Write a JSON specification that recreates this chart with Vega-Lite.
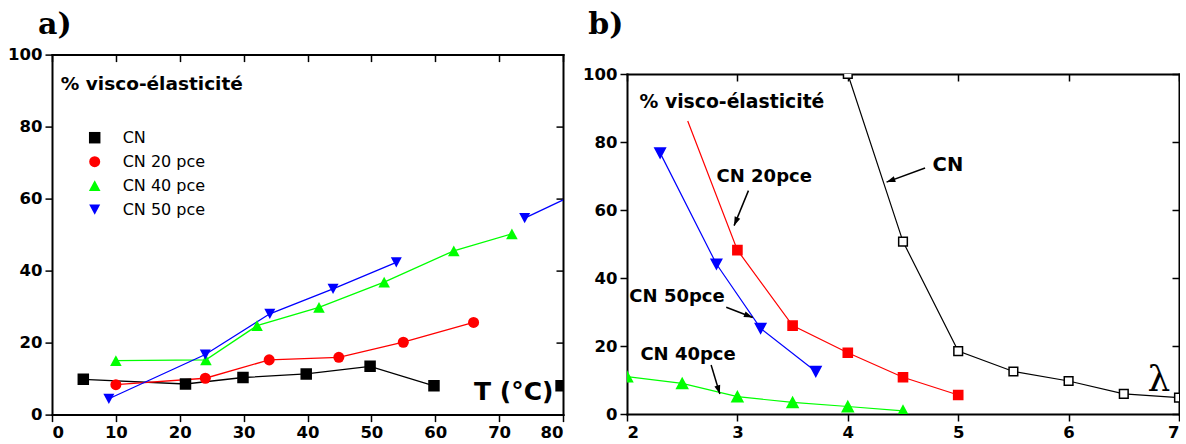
{
  "$schema": "https://vega.github.io/schema/vega-lite/v6.json",
  "background": "white",
  "padding": {"left": 7, "top": 9, "right": 0, "bottom": 0},
  "config": {
    "view": {"stroke": null},
    "axis": {"domain": true, "domainColor": "black", "domainWidth": 2, "domainCap": "square", "grid": false, "tickColor": "black", "tickWidth": 1.5, "tickSize": 7, "labelFont": "DejaVu Sans", "labelFontWeight": "bold", "labelFontSize": 16.5, "labelColor": "black", "labelPadding": 3, "title": null},
    "text": {"font": "DejaVu Sans", "color": "black"}
  },
  "datasets": {
    "a": [
      {"T": 4.9, "v": 9.8, "s": "CN", "g": "k1"},
      {"T": 20.9, "v": 8.5, "s": "CN", "g": "k1"},
      {"T": 29.9, "v": 10.3, "s": "CN", "g": "k1"},
      {"T": 39.8, "v": 11.3, "s": "CN", "g": "k1"},
      {"T": 49.8, "v": 13.4, "s": "CN", "g": "k1"},
      {"T": 59.8, "v": 8.0, "s": "CN", "g": "k1"},
      {"T": 79.7, "v": 8.0, "s": "CN", "g": "k2"},
      {"T": 10, "v": 8.3, "s": "CN 20 pce", "g": "r"},
      {"T": 24, "v": 10.1, "s": "CN 20 pce", "g": "r"},
      {"T": 34, "v": 15.2, "s": "CN 20 pce", "g": "r"},
      {"T": 44.9, "v": 15.9, "s": "CN 20 pce", "g": "r"},
      {"T": 55, "v": 20.1, "s": "CN 20 pce", "g": "r"},
      {"T": 66, "v": 25.6, "s": "CN 20 pce", "g": "r"},
      {"T": 10, "v": 15.0, "s": "CN 40 pce", "g": "gr"},
      {"T": 24.1, "v": 15.2, "s": "CN 40 pce", "g": "gr"},
      {"T": 32.1, "v": 24.7, "s": "CN 40 pce", "g": "gr"},
      {"T": 41.8, "v": 29.8, "s": "CN 40 pce", "g": "gr"},
      {"T": 52, "v": 36.8, "s": "CN 40 pce", "g": "gr"},
      {"T": 62.9, "v": 45.5, "s": "CN 40 pce", "g": "gr"},
      {"T": 72, "v": 50.2, "s": "CN 40 pce", "g": "gr"},
      {"T": 8.9, "v": 4.4, "s": "CN 50 pce", "g": "b1"},
      {"T": 24, "v": 16.7, "s": "CN 50 pce", "g": "b1"},
      {"T": 34.1, "v": 28.0, "s": "CN 50 pce", "g": "b1"},
      {"T": 44, "v": 34.9, "s": "CN 50 pce", "g": "b1"},
      {"T": 53.9, "v": 42.3, "s": "CN 50 pce", "g": "b1"},
      {"T": 74, "v": 54.6, "s": "CN 50 pce", "g": "b2"},
      {"T": 85.5, "v": 64.2, "s": "CN 50 pce", "g": "b2"}
    ],
    "b": [
      {"L": 4, "v": 100, "sb": "CN"},
      {"L": 4.5, "v": 50.7, "sb": "CN"},
      {"L": 5, "v": 18.5, "sb": "CN"},
      {"L": 5.5, "v": 12.5, "sb": "CN"},
      {"L": 6, "v": 9.7, "sb": "CN"},
      {"L": 6.5, "v": 5.9, "sb": "CN"},
      {"L": 7, "v": 4.8, "sb": "CN"},
      {"L": 2.55, "v": 86.2, "sb": "CN 20pce"},
      {"L": 3, "v": 48.2, "sb": "CN 20pce"},
      {"L": 3.5, "v": 26, "sb": "CN 20pce"},
      {"L": 4, "v": 18, "sb": "CN 20pce"},
      {"L": 4.5, "v": 10.8, "sb": "CN 20pce"},
      {"L": 5, "v": 5.6, "sb": "CN 20pce"},
      {"L": 2.3, "v": 76.8, "sb": "CN 50pce"},
      {"L": 2.81, "v": 44.1, "sb": "CN 50pce"},
      {"L": 3.21, "v": 25.2, "sb": "CN 50pce"},
      {"L": 3.71, "v": 12.5, "sb": "CN 50pce"},
      {"L": 2, "v": 11, "sb": "CN 40pce"},
      {"L": 2.5, "v": 9, "sb": "CN 40pce"},
      {"L": 3, "v": 5.1, "sb": "CN 40pce"},
      {"L": 3.5, "v": 3.4, "sb": "CN 40pce"},
      {"L": 4, "v": 2.2, "sb": "CN 40pce"},
      {"L": 4.5, "v": 0.9, "sb": "CN 40pce"}
    ],
    "arrB": [
      {"x": 4.70, "y": 72.35, "hx": 4.351, "hy": 68.2, "ang": 250},
      {"x": 3.10, "y": 65.7, "hx": 2.97, "hy": 55.4, "ang": 202.4},
      {"x": 2.899, "y": 31.4, "hx": 3.139, "hy": 28.4, "ang": 111},
      {"x": 2.762, "y": 14.4, "hx": 2.841, "hy": 5.9, "ang": 163.2}
    ]
  },
  "resolve": {"scale": {"color": "independent", "stroke": "independent", "fill": "independent", "shape": "independent", "size": "independent"}},
  "spacing": 18,
  "hconcat": [
    {
      "spacing": -6.4,
      "vconcat": [
        {
          "width": 511,
          "height": 1,
          "title": {"text": "a)", "anchor": "start", "frame": "group", "font": "DejaVu Serif", "fontSize": 30, "fontWeight": "bold", "color": "black", "dx": -14, "offset": 2},
          "data": {"values": [{"t": ""}]},
          "mark": {"type": "text"},
          "encoding": {"text": {"field": "t"}}
        },
        {
          "width": 511,
          "height": 360,
          "layer": [
            {
              "data": {"name": "a"},
              "mark": {"type": "line", "clip": true, "strokeWidth": 1.3},
              "encoding": {
                "x": {"field": "T", "type": "quantitative", "scale": {"domain": [0, 80], "nice": false, "zero": false}, "axis": {"values": [0, 10, 20, 30, 40, 50, 60, 70, 80], "orient": "bottom"}},
                "y": {"field": "v", "type": "quantitative", "scale": {"domain": [0, 100], "nice": false}, "axis": {"values": [0, 20, 40, 60, 80, 100], "orient": "left"}},
                "color": {"field": "s", "type": "nominal", "scale": {"domain": ["CN", "CN 20 pce", "CN 40 pce", "CN 50 pce"], "range": ["black", "#ff0000", "#00ff00", "#0000ff"]}},
                "detail": {"field": "g"},
                "order": {"field": "T", "type": "quantitative"}
              }
            },
            {
              "data": {"name": "a"},
              "mark": {"type": "point", "filled": true, "clip": true, "opacity": 1},
              "encoding": {
                "x": {"field": "T", "type": "quantitative", "scale": {"domain": [0, 80], "nice": false, "zero": false}, "axis": {"values": [0, 10, 20, 30, 40, 50, 60, 70, 80], "orient": "top", "labels": false, "tickSize": -7}},
                "y": {"field": "v", "type": "quantitative", "scale": {"domain": [0, 100], "nice": false}, "axis": {"values": [0, 20, 40, 60, 80, 100], "orient": "right", "labels": false, "tickSize": -7}},
                "color": {"field": "s", "type": "nominal", "scale": {"domain": ["CN", "CN 20 pce", "CN 40 pce", "CN 50 pce"], "range": ["black", "#ff0000", "#00ff00", "#0000ff"]},
                  "legend": {"title": null, "orient": "none", "legendX": 34.7, "legendY": 82.7, "padding": 0, "rowPadding": 8, "labelOffset": 20, "labelFont": "DejaVu Sans", "labelFontSize": 16, "labelFontWeight": "normal", "labelColor": "black", "symbolSize": 100, "symbolStrokeWidth": 0, "symbolOpacity": 1}},
                "shape": {"field": "s", "type": "nominal", "scale": {"domain": ["CN", "CN 20 pce", "CN 40 pce", "CN 50 pce"], "range": ["square", "circle", "M0,-1.02L1.1,1.03H-1.1Z", "M0,1.03L-1.1,-1.02H1.1Z"]}},
                "size": {"field": "s", "type": "nominal", "scale": {"domain": ["CN", "CN 20 pce", "CN 40 pce", "CN 50 pce"], "range": [132, 100, 144, 144]}, "legend": null}
              }
            },
            {
              "data": {"values": [{"x": 1.38, "y": 91.9, "t": "% visco-élasticité"}]},
              "mark": {"type": "text", "align": "left", "baseline": "middle", "fontWeight": "bold", "fontSize": 18.5, "font": "DejaVu Sans"},
              "encoding": {
                "x": {"field": "x", "type": "quantitative", "scale": {"domain": [0, 80], "nice": false, "zero": false}, "axis": null},
                "y": {"field": "y", "type": "quantitative", "scale": {"domain": [0, 100], "nice": false}, "axis": null},
                "text": {"field": "t"}
              }
            },
            {
              "data": {"values": [{"x": 72.3, "y": 6.2, "t": "T (°C)"}]},
              "mark": {"type": "text", "align": "center", "baseline": "middle", "fontWeight": "bold", "fontSize": 25, "font": "DejaVu Sans"},
              "encoding": {
                "x": {"field": "x", "type": "quantitative", "scale": {"domain": [0, 80], "nice": false, "zero": false}, "axis": null},
                "y": {"field": "y", "type": "quantitative", "scale": {"domain": [0, 100], "nice": false}, "axis": null},
                "text": {"field": "t"}
              }
            }
          ],
          "resolve": {"axis": {"x": "independent", "y": "independent"}}
        }
      ]
    },
    {
      "spacing": 13,
      "vconcat": [
        {
          "width": 552,
          "height": 1,
          "title": {"text": "b)", "anchor": "start", "frame": "group", "font": "DejaVu Serif", "fontSize": 30, "fontWeight": "bold", "color": "black", "dx": -38.7, "offset": 2},
          "data": {"values": [{"t": ""}]},
          "mark": {"type": "text"},
          "encoding": {"text": {"field": "t"}}
        },
        {
          "width": 552,
          "height": 340,
          "layer": [
            {
              "data": {"name": "b"},
              "mark": {"type": "line", "clip": true, "strokeWidth": 1.2},
              "encoding": {
                "x": {"field": "L", "type": "quantitative", "scale": {"domain": [2, 7], "nice": false, "zero": false}, "axis": {"values": [2, 3, 4, 5, 6, 7], "orient": "bottom"}},
                "y": {"field": "v", "type": "quantitative", "scale": {"domain": [0, 100], "nice": false}, "axis": {"values": [0, 20, 40, 60, 80, 100], "orient": "left"}},
                "stroke": {"field": "sb", "type": "nominal", "scale": {"domain": ["CN", "CN 20pce", "CN 50pce", "CN 40pce"], "range": ["black", "#ff0000", "#0000ff", "#00ff00"]}, "legend": null},
                "order": {"field": "L", "type": "quantitative"}
              }
            },
            {
              "data": {"name": "b"},
              "transform": [{"filter": "datum.sb != 'CN 20pce' || datum.L >= 2.9"}],
              "mark": {"type": "point", "filled": true, "clip": true, "opacity": 1, "strokeWidth": 1.5},
              "encoding": {
                "x": {"field": "L", "type": "quantitative", "scale": {"domain": [2, 7], "nice": false, "zero": false}, "axis": {"values": [2, 3, 4, 5, 6, 7], "orient": "top", "labels": false, "tickSize": -7}},
                "y": {"field": "v", "type": "quantitative", "scale": {"domain": [0, 100], "nice": false}, "axis": {"values": [0, 20, 40, 60, 80, 100], "orient": "right", "labels": false, "tickSize": -7}},
                "fill": {"field": "sb", "type": "nominal", "scale": {"domain": ["CN", "CN 20pce", "CN 50pce", "CN 40pce"], "range": ["white", "#ff0000", "#0000ff", "#00ff00"]}, "legend": null},
                "stroke": {"field": "sb", "type": "nominal", "scale": {"domain": ["CN", "CN 20pce", "CN 50pce", "CN 40pce"], "range": ["black", "#ff0000", "#0000ff", "#00ff00"]}, "legend": null},
                "shape": {"field": "sb", "type": "nominal", "scale": {"domain": ["CN", "CN 20pce", "CN 50pce", "CN 40pce"], "range": ["square", "square", "M0,1.03L-1.1,-1.02H1.1Z", "M0,-1.02L1.1,1.03H-1.1Z"]}, "legend": null},
                "size": {"field": "sb", "type": "nominal", "scale": {"domain": ["CN", "CN 20pce", "CN 50pce", "CN 40pce"], "range": [75, 100, 64, 64]}, "legend": null}
              }
            },
            {
              "data": {"name": "arrB"},
              "mark": {"type": "rule", "color": "black", "strokeWidth": 1.5},
              "encoding": {
                "x": {"field": "x", "type": "quantitative", "scale": {"domain": [2, 7], "nice": false, "zero": false}, "axis": null},
                "y": {"field": "y", "type": "quantitative", "scale": {"domain": [0, 100], "nice": false}, "axis": null},
                "x2": {"field": "hx"},
                "y2": {"field": "hy"}
              }
            },
            {
              "data": {"name": "arrB"},
              "mark": {"type": "point", "filled": true, "opacity": 1, "color": "black", "shape": "M0,0L0.75,2.2L-0.75,2.2Z", "size": 64},
              "encoding": {
                "x": {"field": "hx", "type": "quantitative", "scale": {"domain": [2, 7], "nice": false, "zero": false}, "axis": null},
                "y": {"field": "hy", "type": "quantitative", "scale": {"domain": [0, 100], "nice": false}, "axis": null},
                "angle": {"field": "ang", "type": "quantitative", "scale": null}
              }
            },
            {
              "data": {"values": [{"x": 2.114, "y": 91.9, "t": "% visco-élasticité"}]},
              "mark": {"type": "text", "align": "left", "baseline": "middle", "fontWeight": "bold", "fontSize": 18.8, "font": "DejaVu Sans"},
              "encoding": {
                "x": {"field": "x", "type": "quantitative", "scale": {"domain": [2, 7], "nice": false, "zero": false}, "axis": null},
                "y": {"field": "y", "type": "quantitative", "scale": {"domain": [0, 100], "nice": false}, "axis": null},
                "text": {"field": "t"}
              }
            },
            {
              "data": {"values": [
                {"x": 3.243, "y": 69.6, "t": "CN 20pce"},
                {"x": 2.453, "y": 34.4, "t": "CN 50pce"},
                {"x": 2.553, "y": 17.35, "t": "CN 40pce"}
              ]},
              "mark": {"type": "text", "align": "center", "baseline": "middle", "fontWeight": "bold", "fontSize": 18, "font": "DejaVu Sans"},
              "encoding": {
                "x": {"field": "x", "type": "quantitative", "scale": {"domain": [2, 7], "nice": false, "zero": false}, "axis": null},
                "y": {"field": "y", "type": "quantitative", "scale": {"domain": [0, 100], "nice": false}, "axis": null},
                "text": {"field": "t"}
              }
            },
            {
              "data": {"values": [{"x": 4.907, "y": 73.3, "t": "CN"}]},
              "mark": {"type": "text", "align": "center", "baseline": "middle", "fontWeight": "bold", "fontSize": 19.5, "font": "DejaVu Sans"},
              "encoding": {
                "x": {"field": "x", "type": "quantitative", "scale": {"domain": [2, 7], "nice": false, "zero": false}, "axis": null},
                "y": {"field": "y", "type": "quantitative", "scale": {"domain": [0, 100], "nice": false}, "axis": null},
                "text": {"field": "t"}
              }
            },
            {
              "data": {"values": [{"x": 6.818, "y": 10.0, "t": "λ"}]},
              "mark": {"type": "text", "align": "center", "baseline": "middle", "fontSize": 36, "font": "DejaVu Serif"},
              "encoding": {
                "x": {"field": "x", "type": "quantitative", "scale": {"domain": [2, 7], "nice": false, "zero": false}, "axis": null},
                "y": {"field": "y", "type": "quantitative", "scale": {"domain": [0, 100], "nice": false}, "axis": null},
                "text": {"field": "t"}
              }
            }
          ],
          "resolve": {"axis": {"x": "independent", "y": "independent"}}
        }
      ]
    }
  ]
}
